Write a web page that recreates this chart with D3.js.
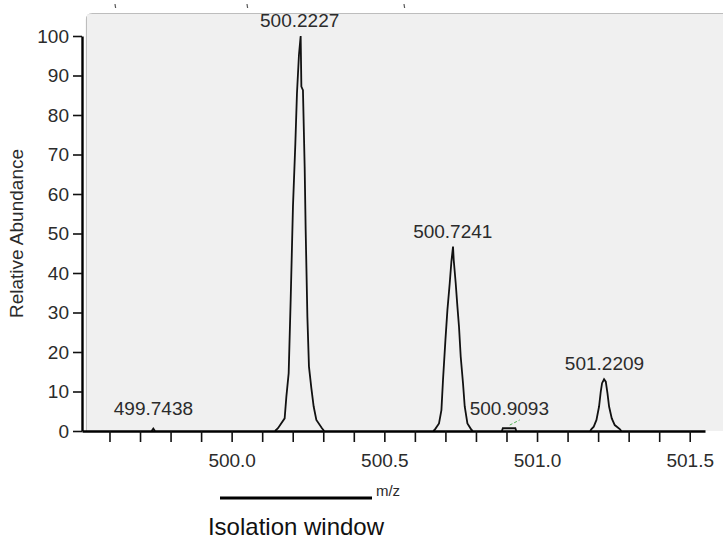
<!DOCTYPE html>
<html>
<head>
<meta charset="utf-8">
<script src="https://cdn.jsdelivr.net/npm/d3@7"></script>
<style>
  body { margin: 0; background: #fff; }
  svg { display: block; font-family: "Liberation Sans", Arial, sans-serif; }
</style>
</head>
<body>
<div id="chart"></div>
<script>
// profile points [m/z, relative abundance]
var mainPeak = [[500.142, 0], [500.1517, 0.7], [500.1736, 3.2], [500.1792, 8.7], [500.1867, 14.6],
  [500.1933, 33.2], [500.2008, 56.8], [500.2086, 72.8], [500.2139, 85.5], [500.2204, 95.2],
  [500.2260, 100], [500.2283, 87.2], [500.2335, 86.3], [500.2391, 66.9], [500.2424, 50.9],
  [500.2480, 28.9], [500.2532, 16.3], [500.2611, 10.8], [500.2686, 6.2], [500.2774, 2.8],
  [500.2958, 0.7], [500.303, 0]];
var secondPeak = [[500.660, 0], [500.6649, 0.3], [500.6790, 1.9], [500.6869, 5.3], [500.6921, 12.9],
  [500.7000, 23.0], [500.7065, 30.6], [500.7141, 37.4], [500.7196, 42.9], [500.7249, 46.7],
  [500.7272, 43.3], [500.7337, 37.4], [500.7393, 31.5], [500.7445, 26.4], [500.7501, 18.8],
  [500.7576, 12.1], [500.7632, 6.2], [500.7720, 1.9], [500.7851, 0.3], [500.790, 0]];
var thirdPeak = [[501.174, 0], [501.1782, 0.5], [501.1857, 1.1], [501.1946, 2.8], [501.2031, 6.2],
  [501.2087, 10.0], [501.2129, 12.1], [501.2195, 13.1], [501.2251, 12.5], [501.2307, 9.5],
  [501.2359, 6.2], [501.2447, 3.2], [501.2545, 1.5], [501.2709, 0.5], [501.276, 0]];
var smallPeak = [[500.885, 0], [500.888, 0.7], [500.929, 0.7], [500.932, 0]];
var tinyPeak = [[499.738, 0], [499.7435, 0.6], [499.749, 0]];
var noiseMark = [[500.9106, 1.5], [500.9433, 2.8]];

// peak labels
var labelMz = [500.2227, 500.7241, 501.2209, 499.7438, 500.9093];
var labelHeight = [100, 46.7, 13.1, 0.6, 0.7];

var yTicks = [0, 10, 20, 30, 40, 50, 60, 70, 80, 90, 100];
var xTicks = [499.6, 499.7, 499.8, 499.9, 500.0, 500.1, 500.2, 500.3, 500.4, 500.5,
  500.6, 500.7, 500.8, 500.9, 501.0, 501.1, 501.2, 501.3, 501.4, 501.5];
var xLabels = [500.0, 500.5, 501.0, 501.5];

var width = 723, height = 542;
var textColor = '#2b2b2b';
var fontSize = '19px';

var svg = d3.select('#chart')
  .append('svg')
  .attr('width', width)
  .attr('height', height);

var x = d3.scaleLinear().domain([499.51, 501.55]).range([82, 705]);
var y = d3.scaleLinear().domain([0, 100]).range([431, 36]);

// grey plot frame, runs off the right edge
svg.append('path')
  .attr('d', 'M86.5,' + y(0) + 'V19.5Q86.5,13.5 92.5,13.5H740')
  .attr('fill', '#f0f0f0')
  .attr('stroke', '#bdbdbd')
  .attr('stroke-width', 1.2);
svg.append('rect')
  .attr('x', 87).attr('y', 14.2)
  .attr('width', 640).attr('height', y(0) - 14.2)
  .attr('fill', '#f0f0f0');

// cut-off marks above the frame
[115, 247, 404].forEach(function (px) {
  svg.append('line')
    .attr('x1', px).attr('x2', px + 0.6)
    .attr('y1', 4).attr('y2', 8)
    .attr('stroke', '#555')
    .attr('stroke-width', 1.2);
});

// spectrum
var line = d3.line()
  .x(function (d) { return x(d[0]); })
  .y(function (d) { return y(d[1]); });

[mainPeak, secondPeak, thirdPeak, smallPeak, tinyPeak].forEach(function (pk) {
  svg.append('path')
    .datum(pk)
    .attr('d', line)
    .attr('fill', 'none')
    .attr('stroke', '#111')
    .attr('stroke-width', 1.8)
    .attr('stroke-linejoin', 'miter');
});

svg.append('path')
  .datum(noiseMark)
  .attr('d', line)
  .attr('fill', 'none')
  .attr('stroke', '#4caf50')
  .attr('stroke-width', 1)
  .attr('stroke-dasharray', '3,2');

// axes
var yAxis = d3.axisLeft(y)
  .tickValues(yTicks)
  .tickSize(9)
  .tickSizeOuter(0)
  .tickPadding(4);

var gy = svg.append('g')
  .attr('transform', 'translate(82,0)')
  .call(yAxis);

var xAxis = d3.axisBottom(x)
  .tickValues(xTicks)
  .tickSize(11)
  .tickSizeOuter(0)
  .tickPadding(12)
  .tickFormat(function (d) {
    var isMajor = xLabels.some(function (v) { return Math.abs(v - d) < 1e-6; });
    return isMajor ? d.toFixed(1) : '';
  });

var gx = svg.append('g')
  .attr('transform', 'translate(0,' + y(0) + ')')
  .call(xAxis);

[gx, gy].forEach(function (g) {
  g.select('.domain').attr('stroke', '#000').attr('stroke-width', 2.4);
  g.selectAll('.tick line').attr('stroke', '#111').attr('stroke-width', 1.6);
  g.selectAll('.tick text')
    .attr('fill', textColor)
    .style('font-size', fontSize)
    .style('font-family', '"Liberation Sans", Arial, sans-serif');
});

// axis titles
svg.append('text')
  .attr('transform', 'translate(23,' + y(50) + ') rotate(-90)')
  .attr('text-anchor', 'middle')
  .attr('fill', textColor)
  .style('font-size', '19px')
  .text('Relative Abundance');

svg.append('text')
  .attr('x', 388).attr('y', 496)
  .attr('text-anchor', 'middle')
  .attr('fill', textColor)
  .style('font-size', '15px')
  .text('m/z');

// peak labels
labelMz.forEach(function (mz, i) {
  var ly = Math.min(y(labelHeight[i]) - 9, y(4));
  svg.append('text')
    .attr('x', x(mz))
    .attr('y', ly)
    .attr('text-anchor', 'middle')
    .attr('fill', textColor)
    .style('font-size', fontSize)
    .text(mz.toFixed(4));
});

// isolation window bar
svg.append('line')
  .attr('x1', 220).attr('x2', 372)
  .attr('y1', 498).attr('y2', 498)
  .attr('stroke', '#000')
  .attr('stroke-width', 3);

svg.append('text')
  .attr('x', 296).attr('y', 535)
  .attr('text-anchor', 'middle')
  .attr('fill', '#111')
  .style('font-size', '24px')
  .text('Isolation window');
</script>
</body>
</html>
